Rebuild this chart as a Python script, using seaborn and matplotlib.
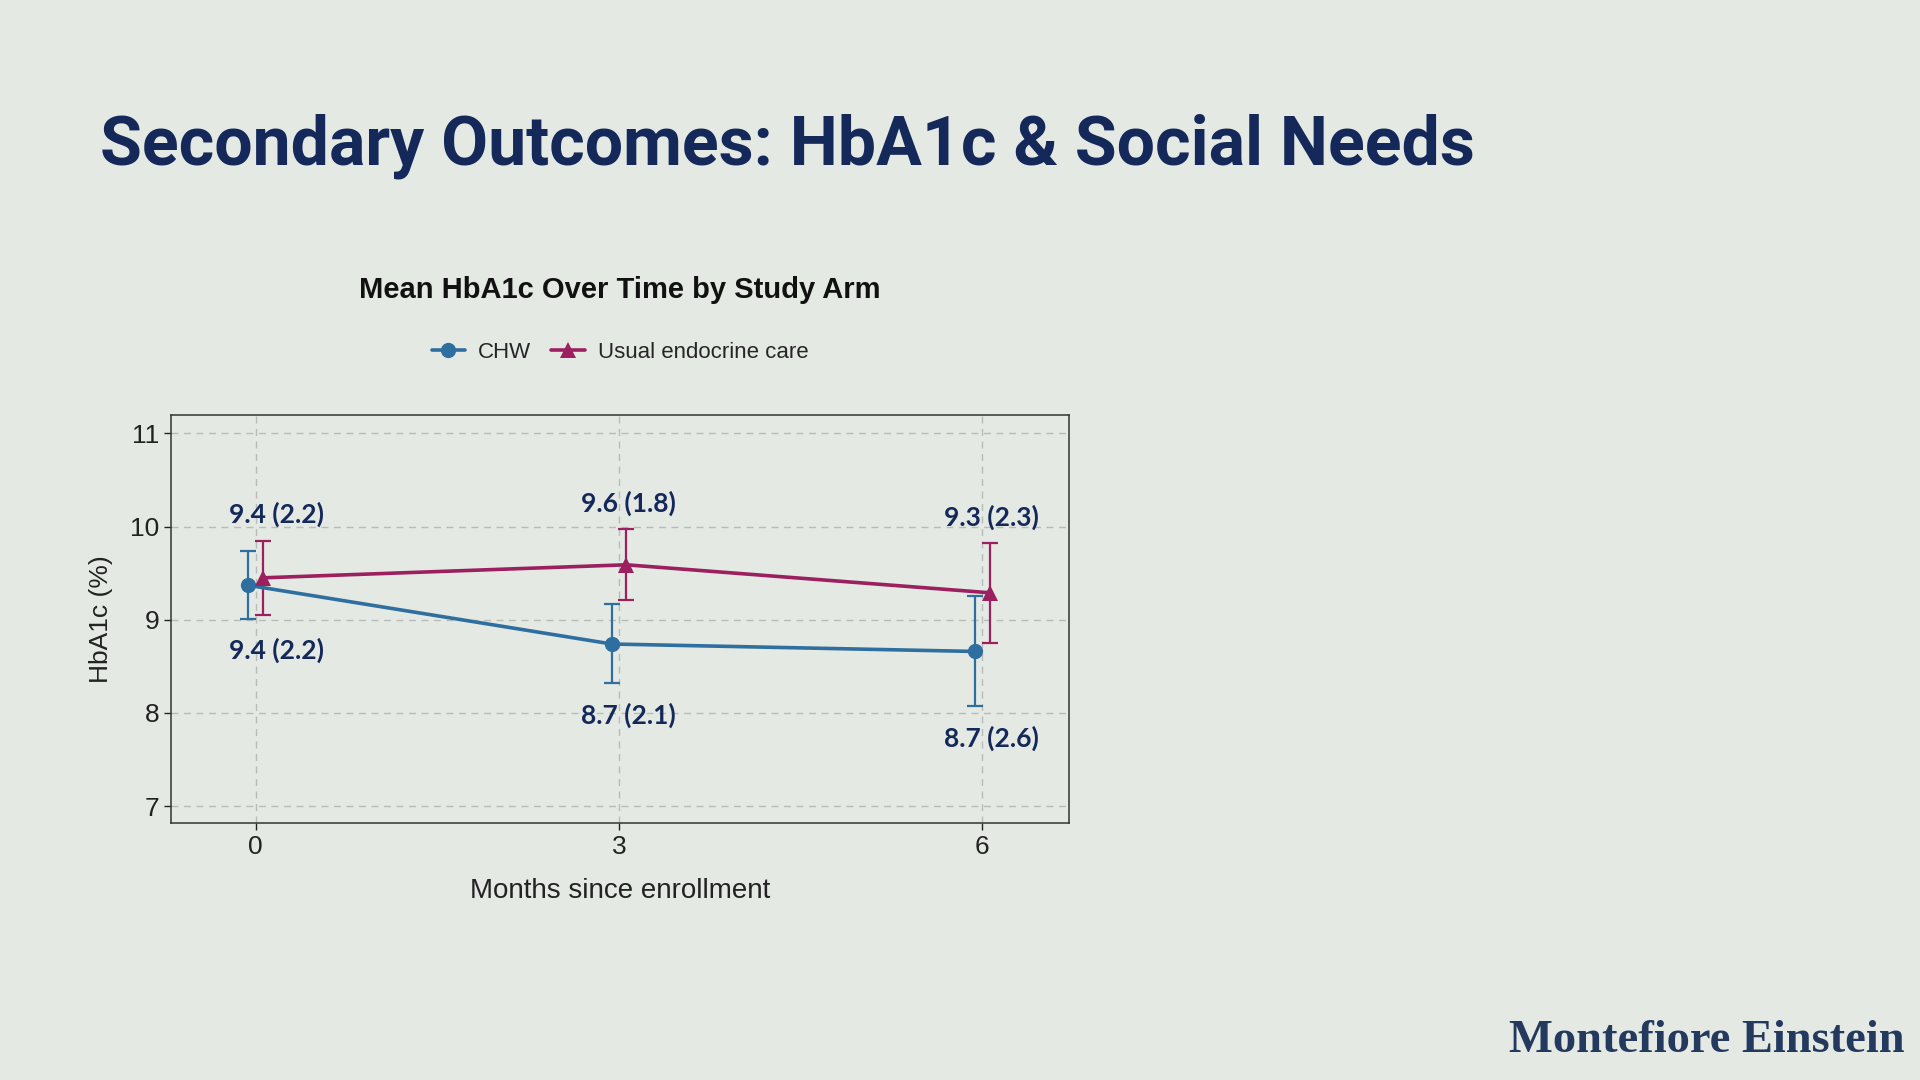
import matplotlib
matplotlib.use("Agg")
import matplotlib.pyplot as plt
import numpy as np
import pandas as pd
import seaborn as sns

# data
months = [0, 3, 6]
arms = ["CHW", "Usual endocrine care"]
chw_mean = [9.37, 8.74, 8.66]
chw_low = [9.01, 8.32, 8.07]
chw_high = [9.74, 9.17, 9.25]
usual_mean = [9.45, 9.59, 9.29]
usual_low = [9.05, 9.21, 8.75]
usual_high = [9.85, 9.97, 9.82]
chw_labels = ["9.4 (2.2)", "8.7 (2.1)", "8.7 (2.6)"]
usual_labels = ["9.4 (2.2)", "9.6 (1.8)", "9.3 (2.3)"]
y_ticks = [7, 8, 9, 10, 11]

BG = "#e4e9e4"
NAVY = "#14295a"
BLUE = "#2f6f9f"
PLUM = "#9c1f5f"

sns.set_theme(style="white")
plt.rcParams["font.family"] = ["Liberation Sans", "DejaVu Sans"]

dodge = {"CHW": -0.06, "Usual endocrine care": 0.06}
df = pd.DataFrame({
    "month": months * 2,
    "arm": [arms[0]] * 3 + [arms[1]] * 3,
    "mean": chw_mean + usual_mean,
    "low": chw_low + usual_low,
    "high": chw_high + usual_high,
    "label": chw_labels + usual_labels,
})
df["xpos"] = df["month"] + df["arm"].map(dodge)

fig = plt.figure(figsize=(19.2, 10.8), dpi=100, facecolor=BG)
ax = fig.add_axes([0.089, 0.238, 0.468, 0.378])
ax.set_facecolor(BG)

palette = {arms[0]: BLUE, arms[1]: PLUM}
sns.lineplot(data=df, x="xpos", y="mean", hue="arm", style="arm",
             markers={arms[0]: "o", arms[1]: "^"}, dashes=False,
             palette=palette, linewidth=2.6, markersize=11,
             markeredgewidth=0, ax=ax, zorder=3)

for arm, sub in df.groupby("arm"):
    ax.errorbar(sub["xpos"], sub["mean"],
                yerr=[sub["mean"] - sub["low"], sub["high"] - sub["mean"]],
                fmt="none", ecolor=palette[arm], elinewidth=1.6,
                capsize=5.5, capthick=1.6, zorder=2)

# value labels: usual arm above, CHW below (first month nudged right)
for _, r in df.iterrows():
    nudge = 0.17 if r["month"] == months[0] else 0.08
    if r["arm"] == arms[1]:
        ax.annotate(r["label"], (r["month"] + nudge, r["high"]),
                    xytext=(0, 19), textcoords="offset points",
                    ha="center", va="center", fontsize=19,
                    fontweight="bold", color=NAVY, family="Lato")
    else:
        ax.annotate(r["label"], (r["month"] + nudge, r["low"]),
                    xytext=(0, -23), textcoords="offset points",
                    ha="center", va="center", fontsize=19,
                    fontweight="bold", color=NAVY, family="Lato")

ax.set_xlim(-0.7, 6.72)
ax.set_ylim(6.82, 11.2)
ax.set_xticks(months)
ax.set_yticks(y_ticks)
ax.tick_params(axis="both", labelsize=19, colors="#222222", length=5,
               width=1, left=True, bottom=True)
ax.grid(True, linestyle=(0, (5, 4)), color="#b8bcb8", linewidth=1)
for s in ax.spines.values():
    s.set_color("#333333")
    s.set_linewidth(1.1)
ax.set_xlabel("Months since enrollment", fontsize=20, color="#222222",
              labelpad=14)
ax.set_ylabel("HbA1c (%)", fontsize=19, color="#222222", labelpad=12)

handles, labels = ax.get_legend_handles_labels()
ax.legend(handles, labels, loc="center", bbox_to_anchor=(0.5, 1.152),
          ncol=2, frameon=False, fontsize=16, handlelength=1.5,
          columnspacing=0.9, handletextpad=0.6)

ax.text(0.5, 1.305, "Mean HbA1c Over Time by Study Arm", transform=ax.transAxes,
        ha="center", va="center", fontsize=21, fontweight="bold",
        color="#111111")

fig.text(100 / 1920, 1 - 146 / 1080, "Secondary Outcomes: HbA1c & Social Needs",
         ha="left", va="center", fontsize=49, fontweight="bold",
         color=NAVY, family="Roboto")

fig.text(1905 / 1920, 1 - 1041 / 1080, "Montefiore Einstein",
         ha="right", va="center", fontsize=33.5, fontweight="bold",
         color="#233a5e", family="Liberation Serif")

fig.savefig("out.png", dpi=100, facecolor=BG)
